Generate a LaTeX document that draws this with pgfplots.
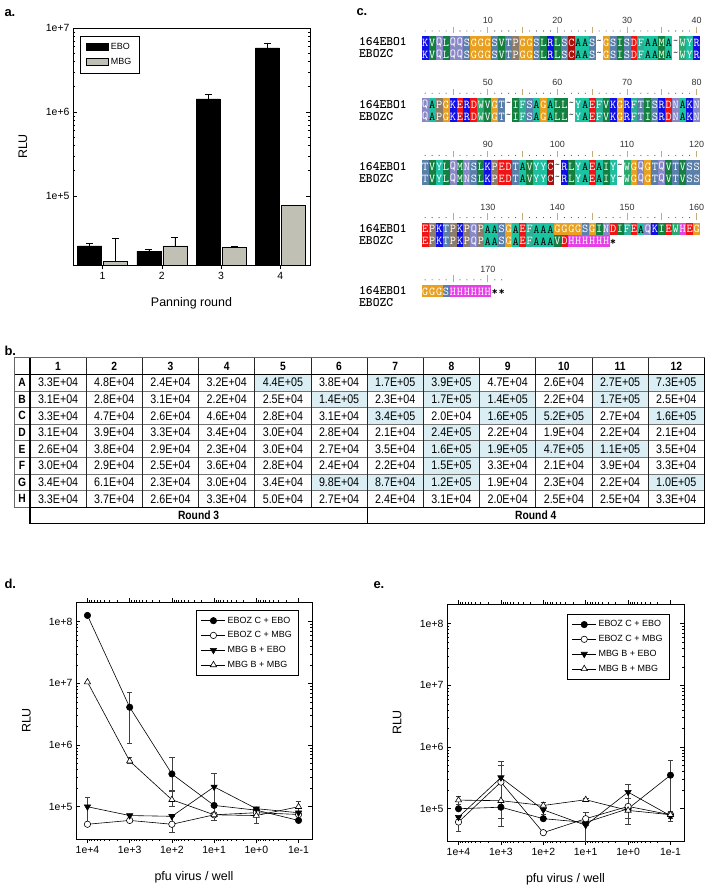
\documentclass[border=0pt]{standalone}
\usepackage{fontspec}
\setmainfont{Liberation Sans}
\newfontfamily\narrowfont[FakeStretch=0.86]{Liberation Sans}
\usepackage{pgfplots}
\pgfplotsset{compat=1.18}

\definecolor{mbggray}{RGB}{192,192,180}
\definecolor{hlblue}{RGB}{218,238,243}
\definecolor{rulecol}{RGB}{200,170,120}
\definecolor{aaA}{RGB}{26,196,160}
\definecolor{aaC}{RGB}{168,16,16}
\definecolor{aaD}{RGB}{240,20,20}
\definecolor{aaE}{RGB}{240,20,20}
\definecolor{aaF}{RGB}{44,176,148}
\definecolor{aaG}{RGB}{232,160,32}
\definecolor{aaH}{RGB}{232,64,232}
\definecolor{aaI}{RGB}{20,128,64}
\definecolor{aaK}{RGB}{16,16,230}
\definecolor{aaL}{RGB}{20,128,64}
\definecolor{aaM}{RGB}{20,128,64}
\definecolor{aaN}{RGB}{136,136,200}
\definecolor{aaP}{RGB}{140,124,108}
\definecolor{aaQ}{RGB}{136,136,200}
\definecolor{aaR}{RGB}{16,16,230}
\definecolor{aaS}{RGB}{90,128,170}
\definecolor{aaT}{RGB}{90,128,170}
\definecolor{aaV}{RGB}{20,128,64}
\definecolor{aaW}{RGB}{40,170,110}
\definecolor{aaY}{RGB}{30,190,160}
\expandafter\def\csname tc@A\endcsname{}

\newcount\seqpos
\def\seqx{0}\def\seqy{0}
\newcommand\drawseq[3]{\def\seqx{#1}\def\seqy{#2}\seqpos=0 \seqloop#3\relax}
\def\seqloop#1{\ifx#1\relax\else\seqchar{#1}\advance\seqpos by 1 \expandafter\seqloop\fi}
\newcommand\seqchar[1]{%
  \pgfmathsetmacro\cx{\seqx+\the\seqpos*6.96+3.48}%
  \if#1-%
    \node[inner sep=0pt, text=black!80, font=\ttfamily\fontsize{12}{12}\selectfont] at (\cx,\seqy) {\textasciitilde};%
  \else\if#1*%
    \node[inner sep=0pt, font=\ttfamily\bfseries\fontsize{12}{12}\selectfont] at (\cx,\seqy+1.5) {*};%
  \else
    \ifcsname tc@#1\endcsname\def\tcol{black}\else\def\tcol{white}\fi
    \fill[aa#1] (\cx-3.48,\seqy-6.1) rectangle (\cx+3.48,\seqy+6.1);%
    \node[inner sep=0pt, text=\tcol, font=\ttfamily\fontsize{12}{12}\selectfont] at (\cx,\seqy+0.7) {#1};%
  \fi\fi}
\newcommand\drawruler[3]{%
 \foreach \i in {1,...,#2}{%
  \pgfmathsetmacro\rx{421.7+(\i-0.5)*6.96}%
  \pgfmathtruncatemacro\rmodf{mod(\i,5)}%
  \pgfmathtruncatemacro\rmodt{mod(\i,10)}%
  \ifnum\rmodf=0
    \draw[rulecol, line width=0.8pt] (\rx,#1-15.5) -- (\rx,#1-9);
  \else
    \fill[black!75] (\rx,#1-11) circle[radius=0.55];
  \fi
  \ifnum\rmodt=0
    \pgfmathtruncatemacro\lab{#3+\i}%
    \node[font=\fontsize{9}{10}\selectfont, text=black!80] at (\rx,#1-21.5) {\lab};
  \fi}}

\tikzset{
 s1/.style={black, line width=0.6bp, mark=*, mark size=3.2bp, mark options={solid, fill=black}},
 s2/.style={black, line width=0.6bp, mark=*, mark size=3.2bp, mark options={solid, fill=white}},
 s3/.style={black, line width=0.6bp, mark=triangle*, mark size=3.6bp, mark options={solid, fill=black, rotate=180}},
 s4/.style={black, line width=0.6bp, mark=triangle*, mark size=3.6bp, mark options={solid, fill=white}},
 ebs/.style={line width=0.5bp, black!75},
 ems/.style={rotate=90, mark size=2.8bp, line width=0.5bp, black!75},
}

\begin{document}
\begin{tikzpicture}
\useasboundingbox (0,0) rectangle (706bp,-886bp);
\begin{scope}[x=1bp,y=-1bp]
% panel labels
\node[font=\bfseries\fontsize{13}{14}\selectfont, anchor=west] at (1,13) {a.};
\node[font=\bfseries\fontsize{13}{14}\selectfont, anchor=west] at (353,12) {c.};
\node[font=\bfseries\fontsize{13}{14}\selectfont, anchor=west] at (1,351) {b.};
\node[font=\bfseries\fontsize{13}{14}\selectfont, anchor=west] at (1,584) {d.};
\node[font=\bfseries\fontsize{13}{14}\selectfont, anchor=west] at (370,585) {e.};

% ---------- panel c: alignment ----------
\foreach \yy in {42,104.2,166.4,228.6,290.8}{
  \node[font=\ttfamily\bfseries\fontsize{13}{13}\selectfont, anchor=west, inner sep=0pt] at (359,\yy) {164EBO1};
}
\foreach \yy in {54,116.2,178.4,240.6,302.8}{
  \node[font=\ttfamily\bfseries\fontsize{13}{13}\selectfont, anchor=west, inner sep=0pt] at (359,\yy) {EBOZC};
}
\drawruler{42}{40}{0}
\drawruler{104.2}{40}{40}
\drawruler{166.4}{40}{80}
\drawruler{228.6}{40}{120}
\drawruler{290.8}{12}{160}
\drawseq{421.7}{42}{KVQLQQSGGGSVTPGGSLRLSCAAS-GSISDFAAMA-WYR}
\drawseq{421.7}{54}{KVQLQQSGGGSVTPGGSLRLSCAAS-GSISDFAAMA-WYR}
\drawseq{421.7}{104.2}{QAPGKERDWVGT-IFSAGALL-YAEFVKGRFTISRDNAKN}
\drawseq{421.7}{116.2}{QAPGKERDWVGT-IFSAGALL-YAEFVKGRFTISRDNAKN}
\drawseq{421.7}{166.4}{TVYLQMNSLKPEDTAVYYC-RLYAEAIY-WGQGTQVTVSS}
\drawseq{421.7}{178.4}{TVYLQMNSLKPEDTAVYYC-RLYAEAIY-WGQGTQVTVSS}
\drawseq{421.7}{228.6}{EPKTPKPQPAASGAEFAAAGGGGSGINDIFEAQKIEWHEG}
\drawseq{421.7}{240.6}{EPKTPKPQPAASGAEFAAAVDHHHHHH*}
\drawseq{421.7}{290.8}{GGGSHHHHHH**}

% ---------- panel b: table ----------
\def\tx{30}\def\tw{56.2}\def\ty{357.7}\def\th{16.6}
\foreach \c/\r in {5/1,7/1,8/1,11/1,12/1, 6/2,8/2,9/2,11/2, 7/3,9/3,10/3,12/3, 8/4, 8/5,9/5,10/5,11/5, 8/6, 6/7,7/7,8/7,12/7}
  \fill[hlblue] ({\tx+(\c-1)*\tw},{\ty+\r*\th}) rectangle ++(\tw,\th);
\foreach \k in {1,...,8}
  \draw[black!55, line width=0.5pt] (14,{\ty+\k*\th}) -- (704.4,{\ty+\k*\th});
\foreach \k in {1,...,11}
  \draw[black!85, line width=0.8pt] ({\tx+\k*\tw},\ty) -- ({\tx+\k*\tw},{\ty+9*\th});
\draw[black, line width=1.2pt] (\tx,\ty) -- (\tx,{\ty+9*\th});
\draw[black, line width=1.2pt] (14,{\ty+\th}) -- (704.4,{\ty+\th});
\draw[black!60, line width=0.6pt] (14,\ty) rectangle (704.4,{\ty+9*\th});
\draw[black, line width=1.2pt] (704.4,\ty) -- (704.4,{\ty+9*\th});
\draw[black, line width=1.2pt] (\tx,{\ty+9*\th}) rectangle (367.2,{\ty+10*\th});
\draw[black, line width=1.2pt] (367.2,{\ty+9*\th}) rectangle (704.4,{\ty+10*\th});
\foreach \c in {1,...,12}
  \node[font=\narrowfont\bfseries\fontsize{12}{13}\selectfont] at ({\tx+(\c-0.5)*\tw},{\ty+0.5*\th}) {\c};
\foreach \L [count=\r] in {A,B,C,D,E,F,G,H}
  \node[font=\narrowfont\bfseries\fontsize{12}{13}\selectfont] at (22,{\ty+(\r+0.5)*\th}) {\L};
\node[font=\narrowfont\bfseries\fontsize{12}{13}\selectfont] at (198.6,{\ty+9.5*\th}) {Round 3};
\node[font=\narrowfont\bfseries\fontsize{12}{13}\selectfont] at (535.8,{\ty+9.5*\th}) {Round 4};
\foreach \vals [count=\r] in {
 {3.3E+04,4.8E+04,2.4E+04,3.2E+04,4.4E+05,3.8E+04,1.7E+05,3.9E+05,4.7E+04,2.6E+04,2.7E+05,7.3E+05},
 {3.1E+04,2.8E+04,3.1E+04,2.2E+04,2.5E+04,1.4E+05,2.3E+04,1.7E+05,1.4E+05,2.2E+04,1.7E+05,2.5E+04},
 {3.3E+04,4.7E+04,2.6E+04,4.6E+04,2.8E+04,3.1E+04,3.4E+05,2.0E+04,1.6E+05,5.2E+05,2.7E+04,1.6E+05},
 {3.1E+04,3.9E+04,3.3E+04,3.4E+04,3.0E+04,2.8E+04,2.1E+04,2.4E+05,2.2E+04,1.9E+04,2.2E+04,2.1E+04},
 {2.6E+04,3.8E+04,2.9E+04,2.3E+04,3.0E+04,2.7E+04,3.5E+04,1.6E+05,1.9E+05,4.7E+05,1.1E+05,3.5E+04},
 {3.0E+04,2.9E+04,2.5E+04,3.6E+04,2.8E+04,2.4E+04,2.2E+04,1.5E+05,3.3E+04,2.1E+04,3.9E+04,3.3E+04},
 {3.4E+04,6.1E+04,2.3E+04,3.0E+04,3.4E+04,9.8E+04,8.7E+04,1.2E+05,1.9E+04,2.3E+04,2.2E+04,1.0E+05},
 {3.3E+04,3.7E+04,2.6E+04,3.3E+04,5.0E+04,2.7E+04,2.4E+04,3.1E+04,2.0E+04,2.5E+04,2.5E+04,3.3E+04}}{
  \foreach \v [count=\c] in \vals {
    \node[font=\narrowfont\fontsize{12.5}{13}\selectfont] at ({\tx+(\c-0.5)*\tw},{\ty+(\r+0.5)*\th}) {\v};
  }
}
\end{scope}

% ---------- panel a ----------
\begin{axis}[scale only axis, anchor=north west, at={(73bp,-28bp)}, width=237bp, height=237bp,
  axis line style={line width=0.6bp}, every tick/.style={black, line width=0.5bp},
  major tick length=4bp, minor tick length=2.2bp, tick align=inside,
  /pgf/number format/assume math mode=true,
  label style={font=\fontsize{12.5}{13}\selectfont},
  ymode=log, ymin=1.5e4, ymax=1e7, log origin=infty,
  xmin=0.5, xmax=4.5, xtick={1,2,3,4}, xticklabels={1,2,3,4},
  xtick pos=bottom, xtick align=outside, ytick pos=both,
  ytick={1e5,1e6,1e7}, yticklabels={1e+5,1e+6,1e+7},
  tick label style={font=\fontsize{10.5}{11}\selectfont},
  xlabel={Panning round}, ylabel={RLU},
  xlabel style={at={(axis description cs:0.5,-0.16)}, anchor=center},
  ylabel style={at={(axis description cs:-0.211,0.5)}, anchor=center},
  ybar, bar width=24bp,
  legend style={at={(axis description cs:0.03,0.966)}, anchor=north west, draw=black, line width=0.5bp,
    font=\fontsize{9}{10}\selectfont, inner xsep=6bp, inner ysep=5bp, row sep=3bp},
  legend cell align=left,
  legend image code/.code={\draw[#1,draw=black] (0bp,-3.5bp) rectangle (22bp,3.5bp);},
]
\addplot[fill=black, draw=black, line width=0.5bp, bar shift=-13bp,
  error bars/y dir=plus, error bars/y explicit, error bars/error bar style={black, line width=0.6bp},
  error bars/error mark options={rotate=90, mark size=3.5bp, black, line width=0.6bp}]
  coordinates {(1,25400) += (0,2000) (2,22000) += (0,800) (3,1430000) += (0,210000) (4,5800000) += (0,800000)};
\addplot[fill=mbggray, draw=black, line width=0.5bp, bar shift=13bp,
  error bars/y dir=plus, error bars/y explicit, error bars/error bar style={black, line width=0.6bp},
  error bars/error mark options={rotate=90, mark size=3.5bp, black, line width=0.6bp}]
  coordinates {(1,16700) += (0,14500) (2,25400) += (0,7000) (3,24500) += (0,800) (4,77000) += (0,1000)};
\legend{EBO, MBG}
\end{axis}

% ---------- panel d ----------
\begin{axis}[scale only axis, anchor=north west, at={(76bp,-602bp)}, width=236bp, height=237bp,
  axis line style={line width=0.6bp}, every tick/.style={black, line width=0.5bp},
  major tick length=4bp, minor tick length=2.2bp, ytick align=inside, xtick align=outside,
  /pgf/number format/assume math mode=true,
  label style={font=\fontsize{12.5}{13}\selectfont},
  xmode=log, ymode=log, x dir=reverse,
  xmin=0.048, xmax=18700, ymin=3e4, ymax=2.08e8,
  xtick={0.1,1,10,100,1000,10000}, xticklabels={1e-1,1e+0,1e+1,1e+2,1e+3,1e+4},
  ytick={1e5,1e6,1e7,1e8}, yticklabels={1e+5,1e+6,1e+7,1e+8},
  tick label style={font=\fontsize{10.5}{11}\selectfont},
  xlabel={pfu virus / well}, ylabel={RLU},
  xlabel style={at={(axis description cs:0.5,-0.16)}, anchor=center},
  ylabel style={at={(axis description cs:-0.21,0.5)}, anchor=center},
  legend cell align=left,
  legend image code/.code={\draw[mark repeat=2,mark phase=2,#1] plot coordinates {(0bp,0bp) (12bp,0bp) (24bp,0bp)};},
  legend style={at={(axis description cs:0.508,0.966)}, anchor=north west, draw=black, line width=0.5bp,
    font=\fontsize{9}{10}\selectfont, inner xsep=5bp, inner ysep=4.5bp, row sep=3bp},
  error bars/y dir=both, error bars/y explicit,
  error bars/error bar style={ebs}, error bars/error mark options={ems}]
\addplot[s1] coordinates {(10000,1.26e8) +- (0,0) (1000,4.1e6) += (0,3.1e6) -= (0,3.05e6) (100,3.4e5) += (0,3.0e5) -= (0,1.6e5) (10,1.05e5) +- (0,0) (1,8.8e4) +- (0,0) (0.1,6.0e4) +- (0,0)};
\addplot[s2] coordinates {(10000,5.2e4) +- (0,0) (1000,6.0e4) +- (0,0) (100,5.2e4) += (0,0) -= (0,1.3e4) (10,7.4e4) +- (0,0) (1,8.0e4) +- (0,0) (0.1,7.5e4) +- (0,0)};
\addplot[s3] coordinates {(10000,1.0e5) += (0,4e4) -= (0,4.5e4) (1000,7.2e4) +- (0,0) (100,7.0e4) += (0,0) -= (0,3.1e4) (10,2.1e5) += (0,1.4e5) -= (0,1.4e5) (1,9.3e4) +- (0,0) (0.1,8.0e4) +- (0,0)};
\addplot[s4] coordinates {(10000,1.05e7) +- (0,0) (1000,5.5e5) += (0,8e4) -= (0,5e4) (100,1.3e5) += (0,5.5e4) -= (0,3e4) (10,7.4e4) += (0,0) -= (0,1.3e4) (1,7.2e4) += (0,2.3e4) -= (0,1.8e4) (0.1,1.0e5) += (0,2.5e4) -= (0,2e4)};
\legend{EBOZ C + EBO, EBOZ C + MBG, MBG B + EBO, MBG B + MBG}
\end{axis}

% ---------- panel e ----------
\begin{axis}[scale only axis, anchor=north west, at={(447bp,-604bp)}, width=237bp, height=237bp,
  axis line style={line width=0.6bp}, every tick/.style={black, line width=0.5bp},
  major tick length=4bp, minor tick length=2.2bp, ytick align=inside, xtick align=outside,
  /pgf/number format/assume math mode=true,
  label style={font=\fontsize{12.5}{13}\selectfont},
  xmode=log, ymode=log, x dir=reverse,
  xmin=0.048, xmax=18700, ymin=3e4, ymax=2.08e8,
  xtick={0.1,1,10,100,1000,10000}, xticklabels={1e-1,1e+0,1e+1,1e+2,1e+3,1e+4},
  ytick={1e5,1e6,1e7,1e8}, yticklabels={1e+5,1e+6,1e+7,1e+8},
  tick label style={font=\fontsize{10.5}{11}\selectfont},
  xlabel={pfu virus / well}, ylabel={RLU},
  xlabel style={at={(axis description cs:0.5,-0.16)}, anchor=center},
  ylabel style={at={(axis description cs:-0.21,0.5)}, anchor=center},
  legend cell align=left,
  legend image code/.code={\draw[mark repeat=2,mark phase=2,#1] plot coordinates {(0bp,0bp) (12bp,0bp) (24bp,0bp)};},
  legend style={at={(axis description cs:0.505,0.958)}, anchor=north west, draw=black, line width=0.5bp,
    font=\fontsize{9}{10}\selectfont, inner xsep=5bp, inner ysep=4.5bp, row sep=3bp},
  error bars/y dir=both, error bars/y explicit,
  error bars/error bar style={ebs}, error bars/error mark options={ems}]
\addplot[s1] coordinates {(10000,1.0e5) +- (0,0) (1000,1.06e5) += (0,0) -= (0,5.4e4) (100,6.9e4) +- (0,0) (10,6.0e4) +- (0,0) (1,1.0e5) +- (0,0) (0.1,3.5e5) += (0,2.7e5) -= (0,2.7e5)};
\addplot[s2] coordinates {(10000,6.1e4) += (0,0) -= (0,1.8e4) (1000,2.7e5) += (0,2.3e5) -= (0,2.0e5) (100,4.1e4) +- (0,0) (10,6.9e4) += (0,2e4) -= (0,0) (1,1.09e5) += (0,4e4) -= (0,4e4) (0.1,8.0e4) += (0,1e4) -= (0,1e4)};
\addplot[s3] coordinates {(10000,7.3e4) +- (0,0) (1000,3.2e5) += (0,2.6e5) -= (0,2.5e5) (100,9.6e4) += (0,1.5e4) -= (0,1.5e4) (10,5.4e4) += (0,0) -= (0,3e4) (1,1.86e5) += (0,6e4) -= (0,1.3e5) (0.1,7.7e4) += (0,1.5e4) -= (0,1.5e4)};
\addplot[s4] coordinates {(10000,1.38e5) += (0,2e4) -= (0,2e4) (1000,1.35e5) +- (0,0) (100,1.13e5) += (0,1.5e4) -= (0,1.5e4) (10,1.4e5) += (0,1e4) -= (0,1e4) (1,9.4e4) +- (0,0) (0.1,8.0e4) +- (0,0)};
\legend{EBOZ C + EBO, EBOZ C + MBG, MBG B + EBO, MBG B + MBG}
\end{axis}
\end{tikzpicture}
\end{document}
